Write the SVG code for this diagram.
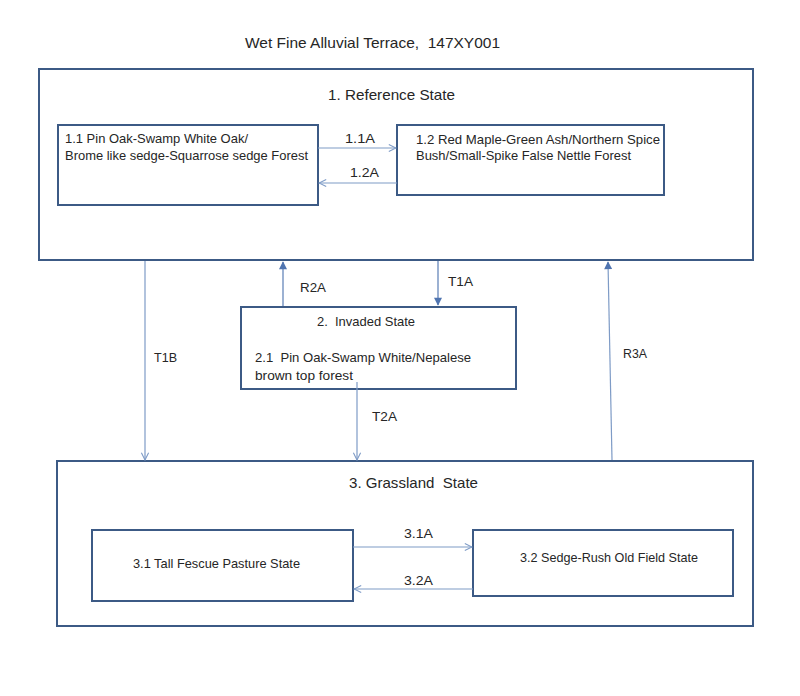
<svg xmlns="http://www.w3.org/2000/svg" width="800" height="696" viewBox="0 0 800 696" xml:space="preserve">
  <style>
    .box { fill: #ffffff; stroke: #3c5a85; stroke-width: 2; }
    .conn { fill: none; stroke: #7e9bc6; stroke-width: 1.2; }
    .connd { fill: none; stroke: #5a7db5; stroke-width: 1.2; }
    text { font-family: "Liberation Sans", Arial, sans-serif; fill: #262626; white-space: pre; }
    .t14 { font-size: 15px; }
    .t12 { font-size: 13px; }
  </style>
  <defs>
    <marker id="open" viewBox="0 0 10 10" refX="9" refY="5" markerWidth="9" markerHeight="10" markerUnits="userSpaceOnUse" orient="auto">
      <path d="M1,1 L9,5 L1,9" fill="none" stroke="#7e9bc6" stroke-width="1.2"/>
    </marker>
    <marker id="solid" viewBox="0 0 10 10" refX="9" refY="5" markerWidth="9" markerHeight="8" markerUnits="userSpaceOnUse" orient="auto">
      <path d="M0,0 L10,5 L0,10 Z" fill="#4f74b0"/>
    </marker>
  </defs>
  <rect width="800" height="696" fill="#ffffff"/>

  <text class="t14" x="245" y="48" textLength="255" lengthAdjust="spacingAndGlyphs">Wet Fine Alluvial Terrace,  147XY001</text>

  <g id="state1">
    <rect class="box" x="39" y="69" width="714" height="191"/>
    <text class="t14" x="328" y="100" textLength="127" lengthAdjust="spacingAndGlyphs">1. Reference State</text>
  </g>
  <g id="phase11">
    <rect class="box" x="58" y="125" width="260" height="80"/>
    <text class="t12" x="65" y="143" textLength="183" lengthAdjust="spacingAndGlyphs">1.1 Pin Oak-Swamp White Oak/</text>
    <text class="t12" x="65" y="160" textLength="243" lengthAdjust="spacingAndGlyphs">Brome like sedge-Squarrose sedge Forest</text>
  </g>
  <g id="phase12">
    <rect class="box" x="397" y="125" width="267" height="70"/>
    <text class="t12" x="416" y="144" textLength="244" lengthAdjust="spacingAndGlyphs">1.2 Red Maple-Green Ash/Northern Spice</text>
    <text class="t12" x="416" y="160" textLength="215" lengthAdjust="spacingAndGlyphs">Bush/Small-Spike False Nettle Forest</text>
  </g>
  <g id="state2">
    <rect class="box" x="241" y="307" width="275" height="82"/>
    <text class="t12" x="317" y="326" textLength="98" lengthAdjust="spacingAndGlyphs">2.  Invaded State</text>
    <text class="t12" x="255" y="362" textLength="216" lengthAdjust="spacingAndGlyphs">2.1  Pin Oak-Swamp White/Nepalese</text>
    <text class="t12" x="255" y="380" textLength="98" lengthAdjust="spacingAndGlyphs">brown top forest</text>
  </g>
  <g id="state3">
    <rect class="box" x="57" y="461" width="696" height="165"/>
    <text class="t14" x="349" y="488" textLength="129" lengthAdjust="spacingAndGlyphs">3. Grassland  State</text>
  </g>
  <g id="phase31">
    <rect class="box" x="92" y="530" width="261" height="71"/>
    <text class="t12" x="133" y="568" textLength="167" lengthAdjust="spacingAndGlyphs">3.1 Tall Fescue Pasture State</text>
  </g>
  <g id="phase32">
    <rect class="box" x="473" y="530" width="260" height="66"/>
    <text class="t12" x="520" y="562" textLength="178" lengthAdjust="spacingAndGlyphs">3.2 Sedge-Rush Old Field State</text>
  </g>

  <g id="connectors">
    <line class="conn" x1="318" y1="148" x2="396" y2="148" marker-end="url(#open)"/>
    <line class="conn" x1="397" y1="183" x2="319" y2="183" marker-end="url(#open)"/>
    <line class="conn" x1="145" y1="261" x2="145" y2="460" marker-end="url(#open)"/>
    <line class="connd" x1="283" y1="306" x2="283" y2="262" marker-end="url(#solid)"/>
    <line class="connd" x1="438" y1="261" x2="438" y2="305" marker-end="url(#solid)"/>
    <line class="conn" x1="357" y1="382" x2="357" y2="460" marker-end="url(#open)"/>
    <line class="conn" x1="612" y1="460" x2="608" y2="262" marker-end="url(#solid)"/>
    <line class="conn" x1="353" y1="547" x2="472" y2="547" marker-end="url(#open)"/>
    <line class="conn" x1="473" y1="589" x2="354" y2="589" marker-end="url(#open)"/>

    <text class="t12" x="345" y="143" textLength="30" lengthAdjust="spacingAndGlyphs">1.1A</text>
    <text class="t12" x="350" y="177" textLength="29" lengthAdjust="spacingAndGlyphs">1.2A</text>
    <text class="t12" x="154" y="362" textLength="23" lengthAdjust="spacingAndGlyphs">T1B</text>
    <text class="t12" x="300" y="292" textLength="26" lengthAdjust="spacingAndGlyphs">R2A</text>
    <text class="t12" x="448" y="286" textLength="25" lengthAdjust="spacingAndGlyphs">T1A</text>
    <text class="t12" x="372" y="421" textLength="25" lengthAdjust="spacingAndGlyphs">T2A</text>
    <text class="t12" x="623" y="358" textLength="24" lengthAdjust="spacingAndGlyphs">R3A</text>
    <text class="t12" x="404" y="538" textLength="29" lengthAdjust="spacingAndGlyphs">3.1A</text>
    <text class="t12" x="404" y="585" textLength="29" lengthAdjust="spacingAndGlyphs">3.2A</text>
  </g>
</svg>
